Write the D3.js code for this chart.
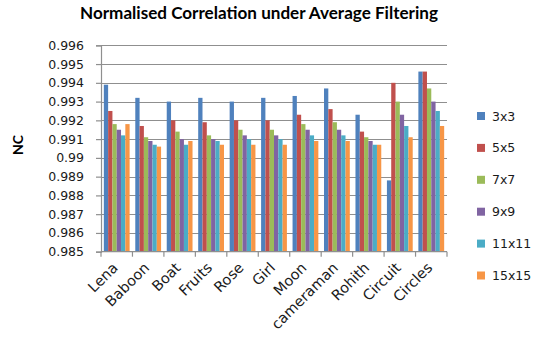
<!DOCTYPE html>
<html>
<head>
<meta charset="utf-8">
<script src="https://cdn.jsdelivr.net/npm/d3@7/dist/d3.min.js"></script>
<style>
  html, body { margin: 0; padding: 0; background: #fff; }
  svg { display: block; }
</style>
</head>
<body>
<script>
// Normalised correlation (NC) of each test image after average filtering
const images = ["Lena", "Baboon", "Boat", "Fruits", "Rose", "Girl", "Moon",
                "cameraman", "Rohith", "Circuit", "Circles"];
const kernels = ["3x3", "5x5", "7x7", "9x9", "11x11", "15x15"];

const nc3x3   = [0.9939, 0.9932, 0.9930, 0.9932, 0.9930, 0.9932, 0.9933, 0.9937, 0.9923, 0.9888, 0.9946];
const nc5x5   = [0.9925, 0.9917, 0.9920, 0.9919, 0.9920, 0.9920, 0.9923, 0.9926, 0.9914, 0.9940, 0.9946];
const nc7x7   = [0.9918, 0.9911, 0.9914, 0.9912, 0.9915, 0.9915, 0.9918, 0.9919, 0.9911, 0.9930, 0.9937];
const nc9x9   = [0.9915, 0.9909, 0.9910, 0.9910, 0.9912, 0.9912, 0.9915, 0.9915, 0.9909, 0.9923, 0.9930];
const nc11x11 = [0.9912, 0.9907, 0.9907, 0.9909, 0.9910, 0.9910, 0.9912, 0.9912, 0.9907, 0.9917, 0.9925];
const nc15x15 = [0.9918, 0.9906, 0.9909, 0.9907, 0.9907, 0.9907, 0.9909, 0.9909, 0.9907, 0.9911, 0.9917];

const seriesValues = [nc3x3, nc5x5, nc7x7, nc9x9, nc11x11, nc15x15];
const seriesColors = ["#4F81BD", "#C0504D", "#9BBB59", "#8064A2", "#4BACC6", "#F79646"];

const yTicks = [0.985, 0.986, 0.987, 0.988, 0.989, 0.99, 0.991, 0.992, 0.993, 0.994, 0.995, 0.996];
const yDomain = [0.985, 0.996];

const W = 544, H = 349;
const plot = { left: 101, right: 447, top: 45.3, bottom: 251.7 };

const svg = d3.select("body").append("svg")
  .attr("width", W).attr("height", H);

const x0 = d3.scaleBand()
  .domain(images)
  .range([plot.left, plot.right])
  .paddingInner(0.18)
  .paddingOuter(0.09);

const x1 = d3.scaleBand()
  .domain(kernels)
  .range([0, x0.bandwidth()]);

const y = d3.scaleLinear()
  .domain(yDomain)
  .range([plot.bottom, plot.top]);

const fmt = d3.format(".3~f");
const labelFont = "DejaVu Sans, Verdana, sans-serif";

// Title
svg.append("text")
  .attr("x", 259).attr("y", 19)
  .attr("text-anchor", "middle")
  .attr("font-family", "Lato, 'Open Sans', sans-serif")
  .attr("font-weight", "bold")
  .attr("font-size", 17)
  .attr("textLength", 358)
  .attr("lengthAdjust", "spacingAndGlyphs")
  .attr("fill", "#000")
  .text("Normalised Correlation under Average Filtering");

// Horizontal gridlines
svg.append("g")
  .selectAll("line")
  .data(yTicks.slice(1))
  .join("line")
  .attr("x1", plot.left).attr("x2", plot.right)
  .attr("y1", d => Math.round(y(d)) + 0.5)
  .attr("y2", d => Math.round(y(d)) + 0.5)
  .attr("stroke", "#8f8f8f")
  .attr("stroke-width", 1.2);

// Bars
const groups = svg.append("g")
  .selectAll("g")
  .data(images.map((name, i) => ({ name, vals: seriesValues.map(s => s[i]) })))
  .join("g")
  .attr("transform", d => `translate(${x0(d.name)},0)`);

groups.selectAll("rect")
  .data(d => d.vals.map((v, k) => ({ k, v })))
  .join("rect")
  .attr("x", d => x1(kernels[d.k]))
  .attr("width", x1.bandwidth())
  .attr("y", d => y(d.v))
  .attr("height", d => y(yDomain[0]) - y(d.v))
  .attr("fill", d => seriesColors[d.k]);

// Y axis
const yAxis = d3.axisLeft(y)
  .tickValues(yTicks)
  .tickFormat(fmt)
  .tickSize(5)
  .tickPadding(12);

const gy = svg.append("g")
  .attr("transform", `translate(${plot.left},0)`)
  .call(yAxis);
gy.select(".domain").attr("stroke", "#8f8f8f").attr("stroke-width", 1.2);
gy.selectAll(".tick line").attr("stroke", "#8f8f8f").attr("stroke-width", 1.2);
gy.selectAll(".tick text")
  .attr("font-family", labelFont)
  .attr("font-size", 12.5)
  .attr("fill", "#1a1a1a");

// X axis: category boundaries carry the tick marks
const bounds = d3.range(images.length + 1).map(i => plot.left + i * x0.step());
const gx = svg.append("g");
gx.append("line")
  .attr("x1", plot.left).attr("x2", plot.right)
  .attr("y1", plot.bottom).attr("y2", plot.bottom)
  .attr("stroke", "#8f8f8f").attr("stroke-width", 1.2);
gx.selectAll("line.tk")
  .data(bounds)
  .join("line")
  .attr("class", "tk")
  .attr("x1", d => d).attr("x2", d => d)
  .attr("y1", plot.bottom).attr("y2", plot.bottom + 5)
  .attr("stroke", "#8f8f8f").attr("stroke-width", 1.2);

gx.selectAll("text")
  .data(images)
  .join("text")
  .attr("transform", d => `translate(${x0(d) + x0.bandwidth() / 2 + 2},${plot.bottom + 17}) rotate(-45)`)
  .attr("text-anchor", "end")
  .attr("font-family", labelFont)
  .attr("font-size", 14.5)
  .attr("fill", "#1a1a1a")
  .text(d => d);

// Y axis title
svg.append("text")
  .attr("transform", "translate(23,145) rotate(-90)")
  .attr("text-anchor", "middle")
  .attr("font-family", "Lato, sans-serif")
  .attr("font-weight", "bold")
  .attr("font-size", 14)
  .attr("fill", "#000")
  .text("NC");

// Legend
const legend = svg.append("g")
  .selectAll("g")
  .data(kernels)
  .join("g")
  .attr("transform", (d, i) => `translate(477,${116 + i * 31.9})`);

legend.append("rect")
  .attr("x", 0).attr("y", -4)
  .attr("width", 8).attr("height", 8)
  .attr("fill", (d, i) => seriesColors[i]);

legend.append("text")
  .attr("x", 15).attr("y", 0)
  .attr("dy", "0.36em")
  .attr("font-family", labelFont)
  .attr("font-size", 12.5)
  .attr("fill", "#1a1a1a")
  .text(d => d);
</script>
</body>
</html>
